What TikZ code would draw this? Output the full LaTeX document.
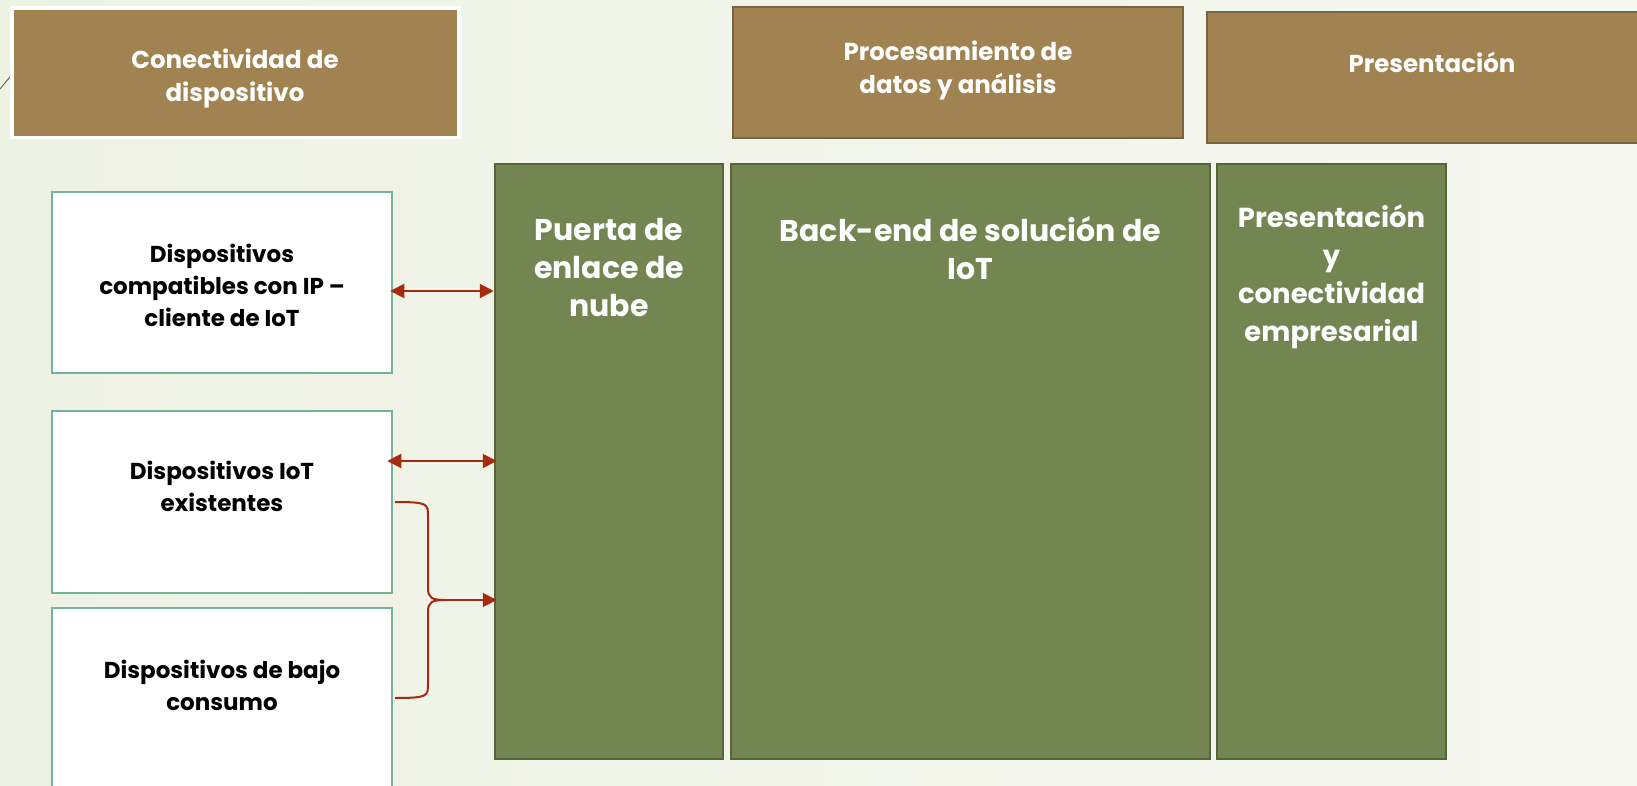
\documentclass[tikz,border=0pt]{standalone}
\usepackage{fontspec}
\setmainfont{Poppins}
\usetikzlibrary{arrows.meta,calc}
\definecolor{bgL}{HTML}{EEF2E3}
\definecolor{bgR}{HTML}{F6F7F1}
\definecolor{brownfill}{HTML}{A08350}
\definecolor{brownline}{HTML}{7A6541}
\definecolor{greenfill}{HTML}{738652}
\definecolor{greenline}{HTML}{56663C}
\definecolor{tealline}{HTML}{72B59B}
\definecolor{arrred}{HTML}{A52A0F}
\tikzset{
  hdr/.style={fill=brownfill, draw=brownline, line width=2.5pt, inner sep=0pt},
  col/.style={fill=greenfill, draw=greenline, line width=2.5pt, inner sep=0pt},
  dev/.style={fill=white, draw=tealline, line width=2.5pt, inner sep=0pt},
  hdrtext/.style={text=white, font=\bfseries\fontsize{24.5}{33}\selectfont, align=center, inner sep=0pt},
  coltext/.style={text=white, font=\bfseries\fontsize{30}{38}\selectfont, align=center, inner sep=0pt},
  coltextn/.style={text=white, font=\bfseries\fontsize{27.5}{38}\selectfont, align=center, inner sep=0pt},
  devtext/.style={text=black, font=\bfseries\fontsize{23}{32}\selectfont, align=center, inner sep=0pt},
  arr/.style={draw=arrred, line width=2pt, {Triangle[length=14pt,width=14pt]}-{Triangle[length=14pt,width=14pt]}},
  onearr/.style={draw=arrred, line width=2pt, -{Triangle[length=14pt,width=14pt]}},
  brace/.style={draw=arrred, line width=2pt}
}
\begin{document}
\begin{tikzpicture}[x=1pt,y=-1pt]
\useasboundingbox (0,0) rectangle (1637,786);
\shade[left color=bgL, right color=bgR] (0,0) rectangle (1637,786);
% small diagonal line at top-left
\draw[gray!70!black, line width=0.8pt] (0,89) -- (14,72);
% header 1 with white frame
\fill[white] (10,6) rectangle (461,139);
\node[fill=brownfill, inner sep=0pt, minimum width=443pt, minimum height=126pt] (h1) at (235.5,73) {};
\node[hdrtext] (h1t) at (235,78) {Conectividad de\\dispositivo};
% header 2
\node[hdr, minimum width=450pt, minimum height=131pt] (h2) at (958,72.5) {};
\node[hdrtext] (h2t) at (958,70) {Procesamiento de\\datos y análisis};
% header 3
\node[hdr, minimum width=453pt, minimum height=131pt] (h3) at (1433.5,77.5) {};
\node[hdrtext] (h3t) at (1432,62) {Presentación};
% device boxes
\node[dev, minimum width=340pt, minimum height=181pt] (b1) at (222,282.5) {};
\node[devtext] (b1t) at (222,285.5) {Dispositivos\\compatibles con IP –\\cliente de IoT};
\node[dev, minimum width=340pt, minimum height=182pt] (b2) at (222,502) {};
\node[devtext] (b2t) at (222,486.5) {Dispositivos IoT\\existentes};
\node[dev, minimum width=340pt, minimum height=192pt] (b3) at (222,704) {};
\node[devtext] (b3t) at (222,685.5) {Dispositivos de bajo\\consumo};
% columns
\node[col, minimum width=228pt, minimum height=595pt] (g1) at (609,461.5) {};
\node[coltext] (g1t) at (609,268) {Puerta de\\enlace de\\nube};
\node[col, minimum width=479pt, minimum height=595pt] (g2) at (970.5,461.5) {};
\node[coltext] (g2t) at (970.5,248.5) {Back-end de solución de\\IoT};
\node[col, minimum width=229pt, minimum height=595pt] (g3) at (1331.5,461.5) {};
\node[coltextn] (g3t) at (1331.5,277) {Presentación\\y\\conectividad\\empresarial};
% arrows
\coordinate (ya) at (0,291);
\coordinate (yb) at (0,461);
\draw[arr] ($(b1.east |- ya)+(-3,0)$) -- (g1.west |- ya);
\draw[arr] ($(b2.east |- yb)+(-6,0)$) -- ($(g1.west |- yb)+(3,0)$);
% brace
\coordinate (bt) at (395,502);
\coordinate (bb) at (395,698);
\coordinate (tip) at (445,600);
\draw[brace] (bt) .. controls (428,502) and (428,504) .. (428,516) -- (428,588)
  .. controls (428,598) and (432,600) .. (tip)
  .. controls (432,600) and (428,602) .. (428,612) -- (428,684)
  .. controls (428,696) and (428,698) .. (bb);
\draw[onearr] (tip) -- ($(g1.west |- tip)+(3,0)$);
\end{tikzpicture}
\end{document}
